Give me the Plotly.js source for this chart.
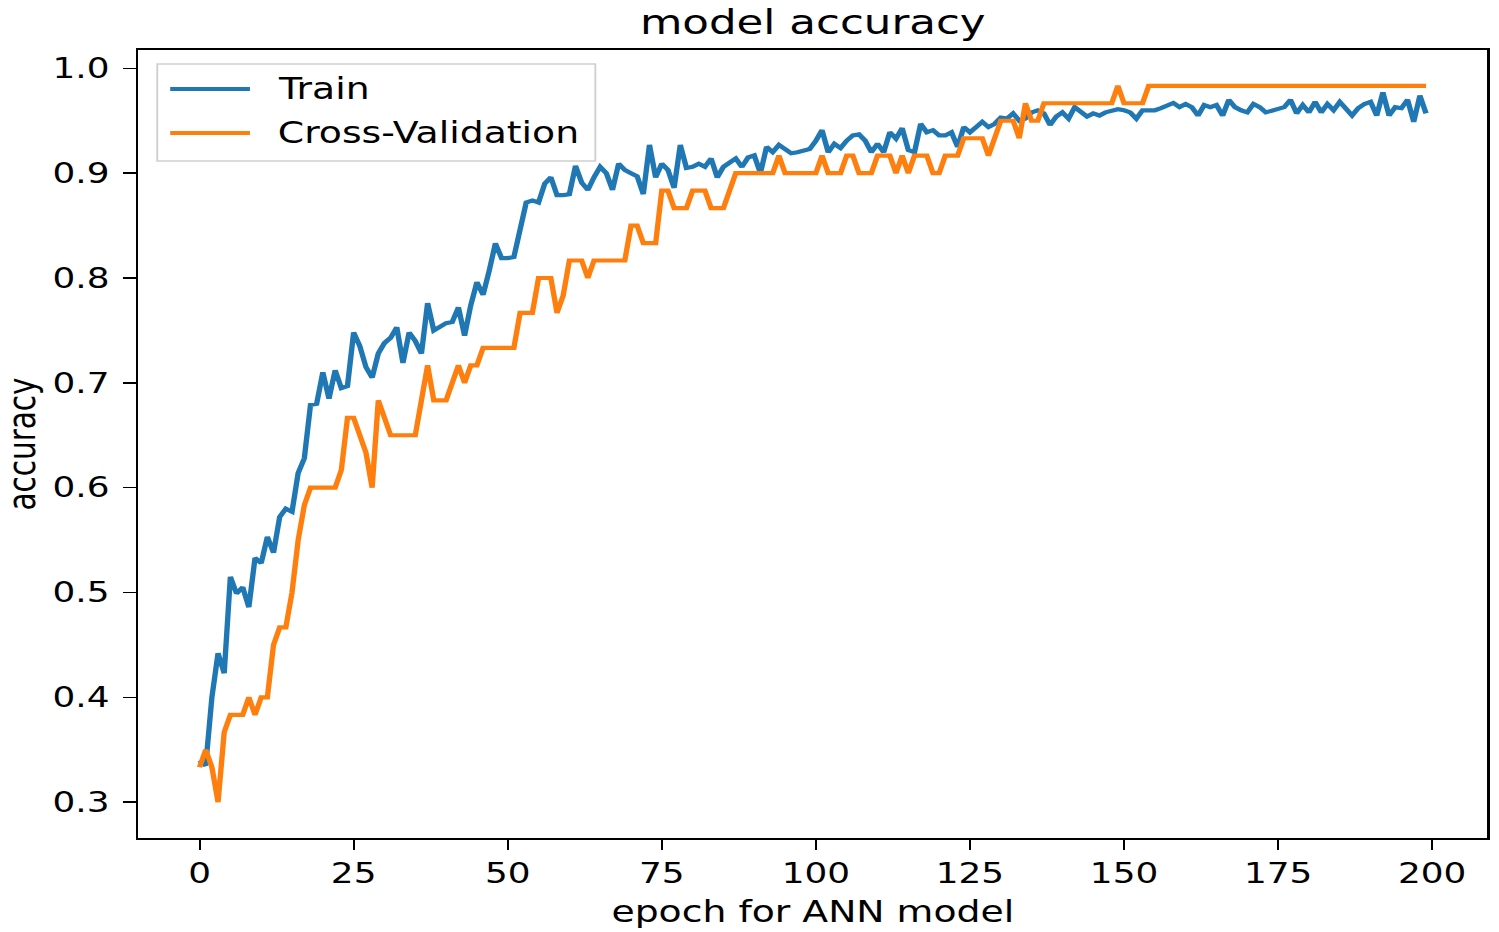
<!DOCTYPE html>
<html>
<head>
<meta charset="utf-8">
<script src="https://cdn.plot.ly/plotly-3.0.1.min.js"></script>
<style>
  html, body { margin: 0; padding: 0; background: #ffffff; overflow: hidden; }
  #wrap { width: 1499px; height: 932px; overflow: hidden; }
  #chart { width: 1171px; height: 932px; transform: scaleX(1.28); transform-origin: 0 0; }
</style>
</head>
<body>
<div id="wrap"><div id="chart"></div></div>
<script>
// ---- data ----
const seriesNames = ["Train", "Cross-Validation"];
const chartTitle = "model accuracy";
const xTitle = "epoch for ANN model";
const yTitle = "accuracy";

const xTickVals = [0, 25, 50, 75, 100, 125, 150, 175, 200];
const xTickText = ["0", "25", "50", "75", "100", "125", "150", "175", "200"];
const yTickVals = [0.3, 0.4, 0.5, 0.6, 0.7, 0.8, 0.9, 1.0];
const yTickText = ["0.3", "0.4", "0.5", "0.6", "0.7", "0.8", "0.9", "1.0"];

const trainAcc = [
  0.340, 0.335, 0.400, 0.442, 0.423, 0.515, 0.499, 0.505, 0.486, 0.533,
  0.528, 0.553, 0.538, 0.572, 0.580, 0.577, 0.614, 0.628, 0.679, 0.680,
  0.710, 0.685, 0.712, 0.695, 0.697, 0.748, 0.735, 0.715, 0.705, 0.728,
  0.738, 0.743, 0.753, 0.719, 0.748, 0.740, 0.728, 0.776, 0.750, 0.753,
  0.757, 0.758, 0.772, 0.745, 0.774, 0.796, 0.784, 0.807, 0.833, 0.819,
  0.819, 0.820, 0.848, 0.872, 0.874, 0.872, 0.890, 0.896, 0.879, 0.879,
  0.880, 0.907, 0.891, 0.884, 0.896, 0.906, 0.900, 0.884, 0.909, 0.903,
  0.900, 0.897, 0.880, 0.927, 0.896, 0.909, 0.903, 0.886, 0.927, 0.905,
  0.906, 0.909, 0.906, 0.914, 0.896, 0.906, 0.910, 0.914, 0.906, 0.915,
  0.917, 0.900, 0.925, 0.920, 0.927, 0.923, 0.919, 0.920, 0.921, 0.923,
  0.931, 0.941, 0.920, 0.928, 0.924, 0.931, 0.936, 0.937, 0.931, 0.920,
  0.928, 0.920, 0.939, 0.933, 0.943, 0.922, 0.920, 0.947, 0.939, 0.941,
  0.936, 0.936, 0.939, 0.925, 0.944, 0.939, 0.944, 0.949, 0.944, 0.947,
  0.953, 0.952, 0.957, 0.950, 0.952, 0.958, 0.960, 0.957, 0.946, 0.954,
  0.958, 0.952, 0.963, 0.958, 0.954, 0.957, 0.955, 0.958, 0.960, 0.961,
  0.960, 0.958, 0.952, 0.960, 0.960, 0.960, 0.962, 0.965, 0.967, 0.963,
  0.966, 0.963, 0.955, 0.965, 0.963, 0.965, 0.955, 0.970, 0.963, 0.960,
  0.958, 0.966, 0.963, 0.958, 0.960, 0.962, 0.963, 0.970, 0.957, 0.965,
  0.958, 0.968, 0.958, 0.966, 0.960, 0.968, 0.962, 0.955, 0.962, 0.966,
  0.968, 0.955, 0.977, 0.955, 0.963, 0.962, 0.970, 0.949, 0.974, 0.957
];

const valAcc = [
  0.3333, 0.3500, 0.3333, 0.3000, 0.3667, 0.3833, 0.3833, 0.3833, 0.4000, 0.3833,
  0.4000, 0.4000, 0.4500, 0.4667, 0.4667, 0.5000, 0.5500, 0.5833, 0.6000, 0.6000,
  0.6000, 0.6000, 0.6000, 0.6167, 0.6667, 0.6667, 0.6500, 0.6333, 0.6000, 0.6833,
  0.6667, 0.6500, 0.6500, 0.6500, 0.6500, 0.6500, 0.6833, 0.7167, 0.6833, 0.6833,
  0.6833, 0.7000, 0.7167, 0.7000, 0.7167, 0.7167, 0.7333, 0.7333, 0.7333, 0.7333,
  0.7333, 0.7333, 0.7667, 0.7667, 0.7667, 0.8000, 0.8000, 0.8000, 0.7667, 0.7833,
  0.8167, 0.8167, 0.8167, 0.8000, 0.8167, 0.8167, 0.8167, 0.8167, 0.8167, 0.8167,
  0.8500, 0.8500, 0.8333, 0.8333, 0.8333, 0.8833, 0.8833, 0.8667, 0.8667, 0.8667,
  0.8833, 0.8833, 0.8833, 0.8667, 0.8667, 0.8667, 0.8833, 0.9000, 0.9000, 0.9000,
  0.9000, 0.9000, 0.9000, 0.9000, 0.9167, 0.9000, 0.9000, 0.9000, 0.9000, 0.9000,
  0.9000, 0.9167, 0.9000, 0.9000, 0.9000, 0.9167, 0.9167, 0.9000, 0.9000, 0.9000,
  0.9167, 0.9167, 0.9167, 0.9000, 0.9167, 0.9000, 0.9167, 0.9167, 0.9167, 0.9000,
  0.9000, 0.9167, 0.9167, 0.9167, 0.9333, 0.9333, 0.9333, 0.9333, 0.9167, 0.9333,
  0.9500, 0.9500, 0.9500, 0.9333, 0.9667, 0.9500, 0.9500, 0.9667, 0.9667, 0.9667,
  0.9667, 0.9667, 0.9667, 0.9667, 0.9667, 0.9667, 0.9667, 0.9667, 0.9667, 0.9833,
  0.9667, 0.9667, 0.9667, 0.9667, 0.9833, 0.9833, 0.9833, 0.9833, 0.9833, 0.9833,
  0.9833, 0.9833, 0.9833, 0.9833, 0.9833, 0.9833, 0.9833, 0.9833, 0.9833, 0.9833,
  0.9833, 0.9833, 0.9833, 0.9833, 0.9833, 0.9833, 0.9833, 0.9833, 0.9833, 0.9833,
  0.9833, 0.9833, 0.9833, 0.9833, 0.9833, 0.9833, 0.9833, 0.9833, 0.9833, 0.9833,
  0.9833, 0.9833, 0.9833, 0.9833, 0.9833, 0.9833, 0.9833, 0.9833, 0.9833, 0.9833
];

const epochs = trainAcc.map((_, i) => i);
const colors = ["#1f77b4", "#ff7f0e"];

// ---- traces ----
const traces = [
  { x: epochs, y: trainAcc, type: "scatter", mode: "lines", name: seriesNames[0],
    line: { color: colors[0], width: 4.2 }, showlegend: false },
  { x: epochs, y: valAcc, type: "scatter", mode: "lines", name: seriesNames[1],
    line: { color: colors[1], width: 4.2 }, showlegend: false }
];

const font = "DejaVu Sans, Verdana, sans-serif";

// legend box drawn matplotlib-style (paper coordinates)
const legBox = { x0: 0.0141, x1: 0.3388, y0: 0.8591, y1: 0.9822 };
const legRows = [0.9505, 0.8947];
const legLine = { x0: 0.0237, x1: 0.0828 };
const legTextX = 0.1013;

const shapes = [
  { type: "rect", xref: "paper", yref: "paper", x0: legBox.x0, x1: legBox.x1, y0: legBox.y0, y1: legBox.y1,
    line: { color: "#d0d0d0", width: 1.5 }, fillcolor: "rgba(255,255,255,0.85)", layer: "above" }
];
const annotations = [];
seriesNames.forEach((nm, i) => {
  shapes.push({ type: "line", xref: "paper", yref: "paper", x0: legLine.x0, x1: legLine.x1,
    y0: legRows[i], y1: legRows[i], line: { color: colors[i], width: 4.2 }, layer: "above" });
  annotations.push({ xref: "paper", yref: "paper", x: legTextX, y: legRows[i], xanchor: "left", yanchor: "middle",
    text: nm, showarrow: false, font: { family: font, size: 29.5, color: "#000" } });
});

const layout = {
  width: 1171, height: 932,
  paper_bgcolor: "#ffffff", plot_bgcolor: "#ffffff",
  margin: { l: 107.8, r: 6.9, t: 50, b: 94, pad: 0 },
  font: { family: font, size: 28, color: "#000" },
  title: { text: chartTitle, x: 0.5, xref: "paper", xanchor: "center", y: 0.976, yref: "container", yanchor: "middle",
    font: { family: font, size: 34, color: "#000" } },
  xaxis: {
    range: [-9.95, 208.95], tickmode: "array", tickvals: xTickVals, ticktext: xTickText,
    ticks: "outside", ticklen: 10, tickwidth: 1.5, tickcolor: "#000",
    showline: true, linecolor: "#000", linewidth: 1.8, mirror: true,
    showgrid: false, zeroline: false, automargin: false,
    tickfont: { family: font, size: 28, color: "#000" },
    title: { text: xTitle, font: { family: font, size: 29.5, color: "#000" }, standoff: 12 }
  },
  yaxis: {
    range: [0.2658, 1.0175], tickmode: "array", tickvals: yTickVals, ticktext: yTickText,
    ticks: "outside", ticklen: 10, tickwidth: 1.5, tickcolor: "#000",
    ticklabelstandoff: 5,
    showline: true, linecolor: "#000", linewidth: 1.8, mirror: true,
    showgrid: false, zeroline: false, automargin: true,
    tickfont: { family: font, size: 28, color: "#000" },
    title: { text: yTitle, font: { family: font, size: 29.5, color: "#000" }, standoff: 12 }
  },
  shapes: shapes,
  annotations: annotations,
  showlegend: false
};

Plotly.newPlot("chart", traces, layout, { displayModeBar: false, staticPlot: true });
</script>
</body>
</html>
